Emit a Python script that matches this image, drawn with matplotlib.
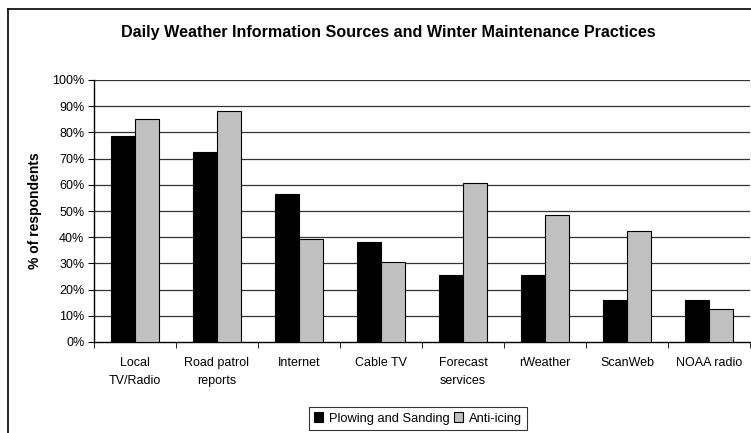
import matplotlib
matplotlib.use("Agg")
import matplotlib.pyplot as plt
import numpy as np
from matplotlib.lines import Line2D
from matplotlib.patches import Patch

plt.rcParams['font.family'] = ['Liberation Sans', 'DejaVu Sans']

categories = ["Local\nTV/Radio", "Road patrol\nreports", "Internet", "Cable TV",
              "Forecast\nservices", "rWeather", "ScanWeb", "NOAA radio"]
plowing = [78.5, 72.5, 56.5, 38.0, 25.5, 25.5, 16.0, 16.0]
anti_icing = [85.0, 88.0, 39.5, 30.5, 60.5, 48.5, 42.5, 12.5]
series_names = ["Plowing and Sanding", "Anti-icing"]
yticks = list(range(0, 101, 10))

W, H = 751, 433
fig = plt.figure(figsize=(W / 100, H / 100), dpi=100)
ax = fig.add_axes([94 / W, (H - 342) / H, (750 - 94) / W, (342 - 80) / H])

x = np.arange(len(categories))
w = 0.29
ax.bar(x - w / 2, plowing, w, color="black", edgecolor="black", linewidth=0.8, zorder=3)
ax.bar(x + w / 2, anti_icing, w, color="#C0C0C0", edgecolor="black", linewidth=0.8, zorder=3)

ax.set_xlim(-0.5, len(categories) - 0.5)
ax.set_ylim(0, 100)
ax.set_yticks(yticks)
ax.set_yticklabels([f"{v}%" for v in yticks], fontsize=9)
for v in yticks[1:]:
    ax.axhline(v, color="#333333", linewidth=0.9, zorder=1)

ax.set_xticks(x)
ax.set_xticklabels(categories, fontsize=9, linespacing=1.6)
ax.tick_params(axis="x", length=0, pad=11)
ax.set_xticks(np.arange(-0.5, len(categories), 1.0), minor=True)
ax.tick_params(axis="x", which="minor", length=4, direction="out", color="black")
ax.tick_params(axis="y", length=4, direction="out", color="black", pad=3)

for s in ["top", "right"]:
    ax.spines[s].set_visible(False)
for s in ["left", "bottom"]:
    ax.spines[s].set_color("black")
    ax.spines[s].set_linewidth(1.0)

ax.set_ylabel("% of respondents", fontsize=10, fontweight="bold", labelpad=7)

fig.text(388 / W, 1 - 32 / H, "Daily Weather Information Sources and Winter Maintenance Practices",
         ha="center", va="center", fontsize=11.6, fontweight="bold")

handles = [Patch(facecolor="black", edgecolor="black", linewidth=0.8),
           Patch(facecolor="#C0C0C0", edgecolor="black", linewidth=0.8)]
leg = fig.legend(handles, series_names, loc="center", bbox_to_anchor=(418 / W, 1 - 418.5 / H),
                 ncol=2, fontsize=9.3, frameon=True, fancybox=False, handlelength=0.7,
                 handleheight=0.7, handletextpad=0.4, columnspacing=0.4, borderpad=0.45,
                 borderaxespad=0)
leg.get_frame().set_edgecolor("black")
leg.get_frame().set_linewidth(0.8)

# outer chart frame
fig.add_artist(Line2D([8 / W, 8 / W], [0, 1 - 9 / H], transform=fig.transFigure, color="black", linewidth=1.2))
fig.add_artist(Line2D([8 / W, 1], [1 - 9 / H, 1 - 9 / H], transform=fig.transFigure, color="black", linewidth=1.2))

fig.savefig("out.png", dpi=100)
